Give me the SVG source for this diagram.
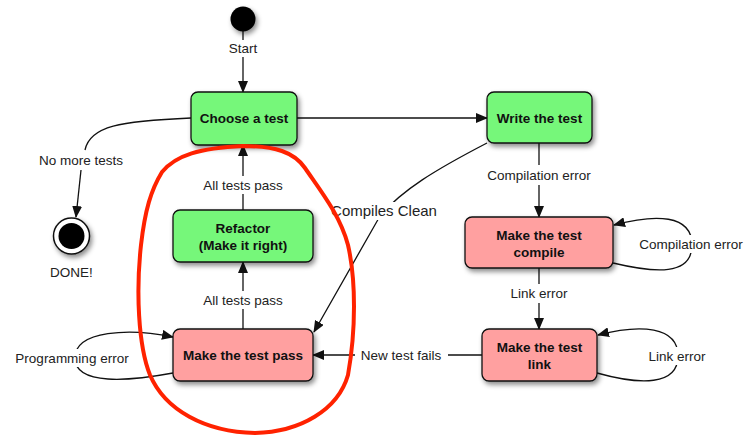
<svg xmlns="http://www.w3.org/2000/svg" width="751" height="437" viewBox="0 0 751 437">
  <style>
    .node { stroke: #111; stroke-width: 1.3; filter: url(#shadow); }
    .ok { fill: #76f77a; }
    .fail { fill: #ffa0a0; }
    .title { font-family: "Liberation Sans", Arial, sans-serif; font-size: 13.5px; font-weight: bold; fill: #111; text-anchor: middle; }
    .edge { fill: none; stroke: #111; stroke-width: 1.3; }
    .lbl { font-family: "Liberation Sans", Arial, sans-serif; font-size: 13.5px; fill: #222; text-anchor: middle; }
    .bg { fill: #fff; }
  </style>
  <defs>
    <filter id="shadow" x="-20%" y="-20%" width="150%" height="160%">
      <feDropShadow dx="2" dy="3" stdDeviation="2.5" flood-color="#000" flood-opacity="0.45"/>
    </filter>
    <marker id="arrow" markerUnits="userSpaceOnUse" markerWidth="12" markerHeight="10" refX="11" refY="5" orient="auto">
      <path d="M0,0 L12,5 L0,10 Z" fill="#111"/>
    </marker>
  </defs>

  <!-- transitions -->
  <g id="connectors">
    <!-- start -> choose -->
    <line class="edge" x1="243" y1="31" x2="243" y2="40"/>
    <line class="edge" x1="243" y1="57" x2="243" y2="92" marker-end="url(#arrow)"/>
    <text class="lbl" x="243" y="53">Start</text>

    <!-- choose -> write -->
    <line class="edge" x1="297" y1="118" x2="487" y2="118" marker-end="url(#arrow)"/>

    <!-- choose -> done -->
    <path class="edge" d="M191,118 C120,121 90,126 85,150"/>
    <line class="edge" x1="81" y1="170" x2="76" y2="217" marker-end="url(#arrow)"/>
    <text class="lbl" x="81" y="165">No more tests</text>

    <!-- write -> compile -->
    <line class="edge" x1="539" y1="143" x2="539" y2="165"/>
    <line class="edge" x1="539" y1="185" x2="539" y2="217" marker-end="url(#arrow)"/>
    <text class="lbl" x="539" y="180">Compilation error</text>

    <!-- compile -> link -->
    <line class="edge" x1="539" y1="268" x2="539" y2="284"/>
    <line class="edge" x1="539" y1="303" x2="539" y2="329" marker-end="url(#arrow)"/>
    <text class="lbl" x="539" y="298">Link error</text>

    <!-- compile self loop -->
    <path class="edge" d="M613,263 C655,273 692,276 692,245 C692,214 655,214 614,225" marker-end="url(#arrow)"/>
    <rect class="bg" x="637" y="235" width="108" height="18"/>
    <text class="lbl" x="691" y="249">Compilation error</text>

    <!-- link self loop -->
    <path class="edge" d="M597,373 C640,385 678,386 678,356 C678,326 640,324 598,335" marker-end="url(#arrow)"/>
    <rect class="bg" x="646" y="347" width="62" height="18"/>
    <text class="lbl" x="677" y="361">Link error</text>

    <!-- link -> pass -->
    <line class="edge" x1="482" y1="355" x2="448" y2="355"/>
    <line class="edge" x1="355" y1="355" x2="313" y2="355" marker-end="url(#arrow)"/>
    <text class="lbl" x="401" y="360">New test fails</text>

    <!-- write -> pass (compiles clean) -->
    <path class="edge" d="M487,143 C435,170 402,190 380,216 L314,332" marker-end="url(#arrow)"/>
    <rect class="bg" x="333" y="202" width="103" height="18"/>
    <text class="lbl" x="384" y="216" style="font-size:15px">Compiles Clean</text>

    <!-- pass -> refactor -->
    <line class="edge" x1="243" y1="329" x2="243" y2="309"/>
    <line class="edge" x1="243" y1="291" x2="243" y2="262" marker-end="url(#arrow)"/>
    <text class="lbl" x="243" y="305">All tests pass</text>

    <!-- refactor -> choose -->
    <line class="edge" x1="243" y1="210" x2="243" y2="194"/>
    <line class="edge" x1="243" y1="176" x2="243" y2="145" marker-end="url(#arrow)"/>
    <text class="lbl" x="243" y="190">All tests pass</text>

    <!-- pass self loop -->
    <path class="edge" d="M173,373 C130,381 75,386 75,358 C75,330 130,328 173,337" marker-end="url(#arrow)"/>
    <rect class="bg" x="14" y="349" width="117" height="18"/>
    <text class="lbl" x="72" y="363">Programming error</text>
  </g>

  <g id="start">
    <circle cx="243" cy="19" r="12.5" fill="#000" filter="url(#shadow)"/>
  </g>

  <g id="done">
    <circle cx="71.5" cy="236" r="18" fill="#fff" stroke="#111" stroke-width="1.5" filter="url(#shadow)"/>
    <circle cx="71.5" cy="236" r="13" fill="#000"/>
    <text class="lbl" x="71.5" y="277">DONE!</text>
  </g>

  <g id="choose">
    <rect class="node ok" x="191" y="92" width="106" height="53" rx="7"/>
    <text class="title" x="244" y="123">Choose a test</text>
  </g>

  <g id="write">
    <rect class="node ok" x="487" y="92" width="105" height="51" rx="7"/>
    <text class="title" x="539.5" y="123">Write the test</text>
  </g>

  <g id="compile">
    <rect class="node fail" x="465" y="217" width="148" height="51" rx="7"/>
    <text class="title" x="539" y="240">Make the test</text>
    <text class="title" x="539" y="257">compile</text>
  </g>

  <g id="link">
    <rect class="node fail" x="482" y="329" width="115" height="52" rx="7"/>
    <text class="title" x="539.5" y="352">Make the test</text>
    <text class="title" x="539.5" y="369">link</text>
  </g>

  <g id="refactor">
    <rect class="node ok" x="173" y="210" width="140" height="52" rx="7"/>
    <text class="title" x="243" y="233">Refactor</text>
    <text class="title" x="243" y="250">(Make it right)</text>
  </g>

  <g id="pass">
    <rect class="node fail" x="173" y="329" width="140" height="52" rx="7"/>
    <text class="title" x="243" y="360">Make the test pass</text>
  </g>

  <!-- hand-drawn red outline around the refactor cycle -->
  <path d="M162,172 C176,155 200,148 243,146 C275,146 294,152 305,168 C320,190 340,215 348,245 C356,280 356,330 348,375 C338,410 300,432 255,433 C205,432 165,410 150,375 C138,345 136,290 141,245 C145,210 151,190 162,172 Z" fill="none" stroke="#ff2200" stroke-width="4" stroke-linejoin="round"/>
</svg>
